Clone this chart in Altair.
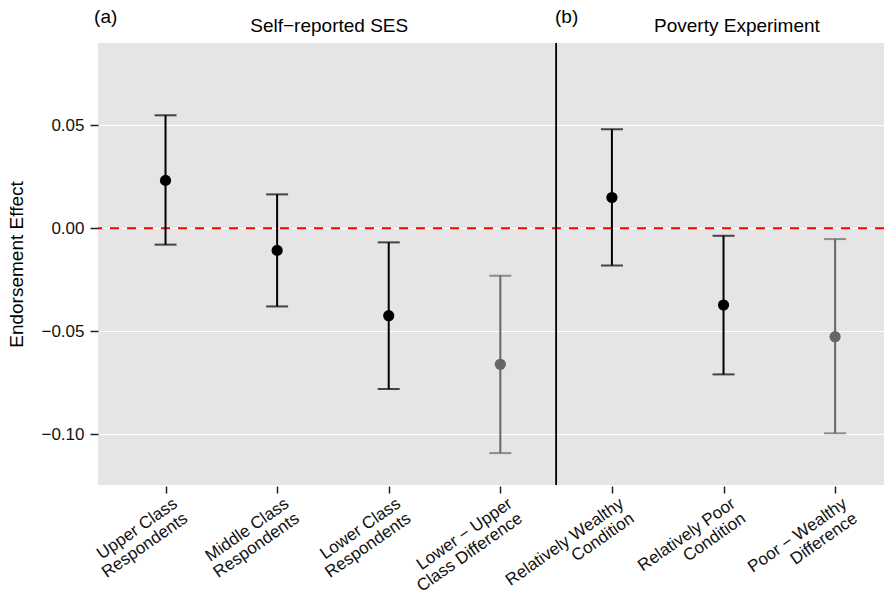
import json
import altair as alt
import pandas as pd

# ---------------- data ----------------
categories = [
    "Upper Class|Respondents",
    "Middle Class|Respondents",
    "Lower Class|Respondents",
    "Lower − Upper|Class Difference",
    "Relatively Wealthy|Condition",
    "Relatively Poor|Condition",
    "Poor − Wealthy|Difference",
]
positions = [1, 2, 3, 4, 5, 6, 7]
estimates = [0.0233, -0.0107, -0.0424, -0.0660, 0.0150, -0.0372, -0.0526]
ci_lower = [-0.0079, -0.0379, -0.0780, -0.1091, -0.0180, -0.0709, -0.0995]
ci_upper = [0.0549, 0.0165, -0.0068, -0.0230, 0.0481, -0.0036, -0.0052]
estimate_kind = ["Group", "Group", "Group", "Difference", "Group", "Group", "Difference"]

panel_labels = ["(a)", "Self−reported SES", "(b)", "Poverty Experiment"]
panel_label_pos = [0.36, 2.467, 4.49, 6.12]
panel_label_est = [0.0998, 0.0955, 0.0998, 0.0955]
panel_label_kind = ["tag", "title", "tag", "title"]

separator_pos = [4.5]
reference_effect = [0.0]
y_ticks = [-0.10, -0.05, 0.0, 0.05]
y_domain = [-0.1246, 0.0900]
x_domain = [0.395, 7.438]

FONT = "Liberation Sans"

df = pd.DataFrame({
    "pos": positions,
    "est": estimates,
    "lo": ci_lower,
    "hi": ci_upper,
    "kind": estimate_kind,
})
labels_df = pd.DataFrame({
    "pos": panel_label_pos,
    "est": panel_label_est,
    "text": panel_labels,
    "kind": panel_label_kind,
})
sep_df = pd.DataFrame({"pos": separator_pos})
zero_df = pd.DataFrame({"est": reference_effect})

label_expr = "split(" + json.dumps(categories, ensure_ascii=False) + "[datum.value - 1], '|')"

x_scale = alt.Scale(domain=x_domain, nice=False, zero=False)
y_scale = alt.Scale(domain=y_domain, nice=False, zero=False)

x_axis = alt.Axis(
    values=positions, labelExpr=label_expr, title=None, grid=False, domain=False,
    ticks=True, tickSize=7, tickWidth=1.5, tickColor="#222222", offset=1,
    labelAngle=-35, labelAlign="right", labelBaseline="top", labelFontSize=17,
    labelFont=FONT, labelColor="#111111", labelPadding=2, labelOffset=5,
    labelOverlap=False, labelFlush=False, labelBound=False, labelLineHeight=18,
)
y_axis = alt.Axis(
    values=y_ticks, format=".2f", title="Endorsement Effect", grid=True,
    gridColor="white", gridWidth=1.2, domain=False, ticks=True, tickSize=8,
    tickWidth=1.5, tickColor="#222222", labelFontSize=17, labelFont=FONT,
    labelColor="#111111", labelPadding=6, titleFontSize=19, titleFont=FONT,
    titleFontWeight="normal", titleColor="#000000", titleX=-82, titleY=221,
    titleAngle=-90, titleAlign="center", titleBaseline="middle",
)

X = alt.X("pos:Q", scale=x_scale, axis=x_axis)
color = alt.Color("kind:N", scale=alt.Scale(domain=["Group", "Difference"],
                                            range=["#000000", "#666666"]), legend=None)

zero_line = alt.Chart(zero_df).mark_rule(color="#FF0000", strokeWidth=2, strokeDash=[9, 8]).encode(
    y=alt.Y("est:Q", scale=y_scale, axis=y_axis)
)
sep_line = alt.Chart(sep_df).mark_rule(color="black", strokeWidth=1.8).encode(x=X)

bars = alt.Chart(df).mark_rule(strokeWidth=2).encode(
    x=X, y=alt.Y("lo:Q", scale=y_scale, axis=y_axis), y2="hi:Q", color=color
)
cap_lo = alt.Chart(df).mark_tick(orient="horizontal", size=22, thickness=2).encode(
    x=X, y=alt.Y("lo:Q", scale=y_scale, axis=y_axis), color=color
)
cap_hi = alt.Chart(df).mark_tick(orient="horizontal", size=22, thickness=2).encode(
    x=X, y=alt.Y("hi:Q", scale=y_scale, axis=y_axis), color=color
)
points = alt.Chart(df).mark_point(filled=True, size=125, opacity=1).encode(
    x=X, y=alt.Y("est:Q", scale=y_scale, axis=y_axis), color=color
)

tags = alt.Chart(labels_df).transform_filter(alt.datum.kind == "tag").mark_text(
    align="left", baseline="alphabetic", font=FONT, fontSize=19, color="black"
).encode(x=X, y=alt.Y("est:Q", scale=y_scale, axis=y_axis), text="text:N")
titles = alt.Chart(labels_df).transform_filter(alt.datum.kind == "title").mark_text(
    align="center", baseline="alphabetic", font=FONT, fontSize=19, color="black"
).encode(x=X, y=alt.Y("est:Q", scale=y_scale, axis=y_axis), text="text:N")

chart = alt.layer(zero_line, sep_line, bars, cap_lo, cap_hi, points, tags, titles).properties(
    width=786, height=442,
    autosize=alt.AutoSizeParams(type="none"),
    padding={"left": 90, "top": 35, "right": 0, "bottom": 106},
).configure(background="white").configure_view(fill="#E5E5E5", stroke=None)

chart.save("out.html", embed_options={"renderer": "svg", "actions": False})
